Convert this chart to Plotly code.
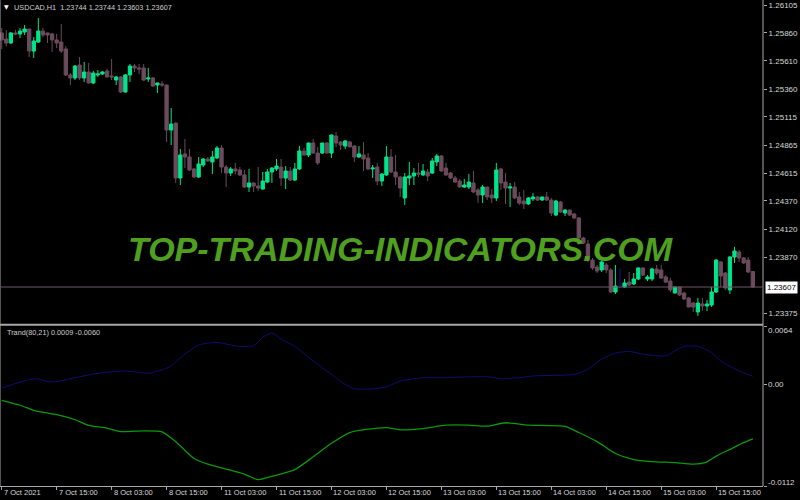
import plotly.graph_objects as go

# ---------------- data (USDCAD H1) ----------------
bar_open = [1.25858, 1.25804, 1.25769, 1.25858, 1.25849, 1.25866, 1.25893, 1.25698, 1.25778, 1.25875,
            1.25858, 1.25849, 1.25796, 1.25778, 1.25716, 1.25486, 1.25459, 1.25574, 1.25459, 1.25512,
            1.25415, 1.25486, 1.25494, 1.25521, 1.25477, 1.25441, 1.25468, 1.25335, 1.25486, 1.25565,
            1.25548, 1.25548, 1.25450, 1.25459, 1.25397, 1.25406, 1.25397, 1.24998, 1.25060, 1.24573,
            1.24786, 1.24759, 1.24653, 1.24582, 1.24688, 1.24741, 1.24715, 1.24750, 1.24839, 1.24670,
            1.24617, 1.24653, 1.24644, 1.24600, 1.24493, 1.24529, 1.24502, 1.24475, 1.24537, 1.24626,
            1.24653, 1.24670, 1.24573, 1.24635, 1.24555, 1.24653, 1.24812, 1.24777, 1.24883, 1.24794,
            1.24794, 1.24883, 1.24794, 1.24945, 1.24892, 1.24856, 1.24892, 1.24856, 1.24759, 1.24777,
            1.24750, 1.24653, 1.24670, 1.24546, 1.24600, 1.24759, 1.24626, 1.24582, 1.24396, 1.24573,
            1.24591, 1.24617, 1.24600, 1.24626, 1.24617, 1.24715, 1.24768, 1.24661, 1.24617, 1.24573,
            1.24546, 1.24493, 1.24493, 1.24529, 1.24467, 1.24422, 1.24493, 1.24422, 1.24396, 1.24653,
            1.24537, 1.24484, 1.24493, 1.24405, 1.24369, 1.24343, 1.24387, 1.24405, 1.24378, 1.24405,
            1.24378, 1.24245, 1.24360, 1.24263, 1.24289, 1.24254, 1.24219, 1.24041, 1.23988, 1.23846,
            1.23784, 1.23758, 1.23802, 1.23758, 1.23563, 1.23625, 1.23607, 1.23651, 1.23634, 1.23678,
            1.23776, 1.23678, 1.23678, 1.23767, 1.23758, 1.23696, 1.23660, 1.23554, 1.23607, 1.23554,
            1.23510, 1.23465, 1.23386, 1.23457, 1.23439, 1.23448, 1.23563, 1.23829, 1.23731, 1.23581,
            1.23873, 1.23917, 1.23864, 1.23846, 1.23744]
bar_high = [1.25902, 1.25884, 1.25866, 1.25884, 1.25902, 1.25928, 1.25895, 1.25822, 1.25990, 1.25902,
            1.25860, 1.25858, 1.25849, 1.25937, 1.25742, 1.25503, 1.25574, 1.25645, 1.25601, 1.25592,
            1.25521, 1.25530, 1.25521, 1.25539, 1.25627, 1.25477, 1.25477, 1.25494, 1.25583, 1.25583,
            1.25583, 1.25583, 1.25548, 1.25468, 1.25415, 1.25432, 1.25400, 1.25193, 1.25062, 1.24830,
            1.24918, 1.24830, 1.24661, 1.24759, 1.24750, 1.24759, 1.24812, 1.24856, 1.24865, 1.24688,
            1.24670, 1.24706, 1.24670, 1.24644, 1.24653, 1.24532, 1.24670, 1.24626, 1.24653, 1.24670,
            1.24741, 1.24741, 1.24679, 1.24670, 1.24706, 1.24856, 1.24839, 1.24885, 1.24918, 1.24848,
            1.24883, 1.24892, 1.24957, 1.24980, 1.24901, 1.24910, 1.24901, 1.24865, 1.24856, 1.24892,
            1.24794, 1.24688, 1.24706, 1.24617, 1.24856, 1.24830, 1.24777, 1.24591, 1.24617, 1.24715,
            1.24661, 1.24706, 1.24697, 1.24653, 1.24750, 1.24786, 1.24777, 1.24706, 1.24626, 1.24591,
            1.24564, 1.24564, 1.24608, 1.24635, 1.24484, 1.24511, 1.24495, 1.24475, 1.24706, 1.24661,
            1.24617, 1.24529, 1.24537, 1.24449, 1.24467, 1.24405, 1.24440, 1.24413, 1.24405, 1.24449,
            1.24396, 1.24378, 1.24369, 1.24298, 1.24292, 1.24263, 1.24227, 1.24050, 1.24024, 1.23864,
            1.23802, 1.23846, 1.23820, 1.23776, 1.23802, 1.23776, 1.23678, 1.23740, 1.23731, 1.23780,
            1.23780, 1.23713, 1.23776, 1.23802, 1.23802, 1.23713, 1.23687, 1.23610, 1.23610, 1.23563,
            1.23519, 1.23474, 1.23510, 1.23510, 1.23492, 1.23607, 1.23855, 1.23837, 1.23740, 1.23882,
            1.23962, 1.23935, 1.23873, 1.23873, 1.23744]
bar_low = [1.25716, 1.25742, 1.25760, 1.25840, 1.25813, 1.25840, 1.25645, 1.25636, 1.25769, 1.25822,
           1.25769, 1.25689, 1.25725, 1.25680, 1.25477, 1.25397, 1.25441, 1.25441, 1.25424, 1.25412,
           1.25406, 1.25468, 1.25486, 1.25465, 1.25441, 1.25397, 1.25326, 1.25330, 1.25424, 1.25512,
           1.25494, 1.25432, 1.25424, 1.25379, 1.25326, 1.25379, 1.24892, 1.24865, 1.24529, 1.24511,
           1.24661, 1.24635, 1.24573, 1.24573, 1.24670, 1.24715, 1.24608, 1.24741, 1.24617, 1.24493,
           1.24591, 1.24608, 1.24591, 1.24484, 1.24449, 1.24449, 1.24458, 1.24472, 1.24529, 1.24529,
           1.24635, 1.24502, 1.24475, 1.24546, 1.24546, 1.24644, 1.24768, 1.24759, 1.24786, 1.24688,
           1.24786, 1.24790, 1.24750, 1.24848, 1.24821, 1.24830, 1.24845, 1.24715, 1.24750, 1.24635,
           1.24644, 1.24573, 1.24511, 1.24502, 1.24591, 1.24617, 1.24511, 1.24405, 1.24334, 1.24511,
           1.24511, 1.24582, 1.24591, 1.24546, 1.24608, 1.24679, 1.24626, 1.24591, 1.24564, 1.24529,
           1.24490, 1.24484, 1.24475, 1.24440, 1.24351, 1.24351, 1.24378, 1.24351, 1.24369, 1.24467,
           1.24343, 1.24316, 1.24387, 1.24334, 1.24298, 1.24334, 1.24369, 1.24369, 1.24369, 1.24369,
           1.24236, 1.24236, 1.24263, 1.24236, 1.24236, 1.24210, 1.24024, 1.23988, 1.23829, 1.23758,
           1.23731, 1.23740, 1.23731, 1.23554, 1.23545, 1.23598, 1.23598, 1.23616, 1.23625, 1.23669,
           1.23705, 1.23660, 1.23660, 1.23713, 1.23678, 1.23643, 1.23563, 1.23550, 1.23528, 1.23492,
           1.23427, 1.23386, 1.23350, 1.23395, 1.23395, 1.23430, 1.23554, 1.23607, 1.23581, 1.23545,
           1.23820, 1.23829, 1.23811, 1.23731, 1.23603]
bar_close = [1.25796, 1.25769, 1.25858, 1.25849, 1.25875, 1.25893, 1.25698, 1.25787, 1.25875, 1.25840,
             1.25840, 1.25796, 1.25769, 1.25698, 1.25486, 1.25459, 1.25565, 1.25459, 1.25512, 1.25415,
             1.25503, 1.25494, 1.25512, 1.25468, 1.25468, 1.25468, 1.25335, 1.25486, 1.25565, 1.25548,
             1.25539, 1.25441, 1.25459, 1.25388, 1.25415, 1.25397, 1.24998, 1.25051, 1.24573, 1.24777,
             1.24759, 1.24644, 1.24582, 1.24697, 1.24741, 1.24724, 1.24759, 1.24839, 1.24670, 1.24617,
             1.24653, 1.24635, 1.24600, 1.24493, 1.24529, 1.24502, 1.24484, 1.24546, 1.24626, 1.24661,
             1.24679, 1.24573, 1.24635, 1.24555, 1.24653, 1.24812, 1.24777, 1.24883, 1.24794, 1.24706,
             1.24883, 1.24794, 1.24954, 1.24883, 1.24865, 1.24901, 1.24848, 1.24759, 1.24786, 1.24741,
             1.24653, 1.24661, 1.24546, 1.24608, 1.24759, 1.24626, 1.24582, 1.24484, 1.24582, 1.24591,
             1.24617, 1.24608, 1.24635, 1.24591, 1.24724, 1.24768, 1.24635, 1.24600, 1.24573, 1.24537,
             1.24493, 1.24511, 1.24537, 1.24449, 1.24422, 1.24493, 1.24405, 1.24396, 1.24644, 1.24529,
             1.24484, 1.24493, 1.24396, 1.24351, 1.24343, 1.24396, 1.24405, 1.24378, 1.24405, 1.24378,
             1.24263, 1.24369, 1.24272, 1.24289, 1.24245, 1.24219, 1.24041, 1.23997, 1.23846, 1.23776,
             1.23749, 1.23829, 1.23758, 1.23563, 1.23616, 1.23625, 1.23643, 1.23625, 1.23678, 1.23776,
             1.23713, 1.23696, 1.23767, 1.23731, 1.23687, 1.23651, 1.23581, 1.23607, 1.23536, 1.23501,
             1.23430, 1.23430, 1.23465, 1.23439, 1.23457, 1.23563, 1.23846, 1.23705, 1.23598, 1.23873,
             1.23926, 1.23864, 1.23820, 1.23740, 1.23607]
bar_index = list(range(len(bar_open)))

time_tick_idx = [0, 12, 24, 36, 48, 60, 72, 84, 96, 108, 120, 132, 144, 156]
time_tick_text = ["7 Oct 2021", "7 Oct 15:00", "8 Oct 03:00", "8 Oct 15:00", "11 Oct 03:00",
                  "11 Oct 15:00", "12 Oct 03:00", "12 Oct 15:00", "13 Oct 03:00", "13 Oct 15:00",
                  "14 Oct 03:00", "14 Oct 15:00", "15 Oct 03:00", "15 Oct 15:00"]

price_ticks = [1.26105, 1.25860, 1.25610, 1.25360, 1.25115, 1.24865, 1.24615,
               1.24370, 1.24120, 1.23870, 1.23375]
price_tick_text = ["%.5f" % v for v in price_ticks]
last_price = 1.23607
title_text = "USDCAD,H1  1.23744 1.23744 1.23603 1.23607"

trand_blue_idx = [0, 7, 11, 16, 21, 27, 32, 35, 37, 40, 43, 47, 50, 52, 55, 57, 59, 61, 64, 68,
                  72, 75, 77, 81, 84, 87, 92, 96, 106, 109, 113, 116, 125, 128, 131, 134, 137, 140,
                  145, 147, 149, 152, 155, 157, 161, 164]
trand_blue = [-0.0004, 0.00064, 0.00027, 0.00075, 0.00124, 0.00149, 0.00124, 0.0016, 0.00205, 0.00335,
              0.00436, 0.00465, 0.00436, 0.0042, 0.00428, 0.0052, 0.00569, 0.00502, 0.0042, 0.00261,
              0.00112, 0.00001, -0.00048, -0.00048, -0.00026, 0.00038, 0.00075, 0.00075, 0.00086, 0.00064,
              0.00075, 0.00094, 0.00112, 0.00168, 0.0028, 0.00346, 0.00365, 0.00335, 0.00316, 0.00372,
              0.0042, 0.0042, 0.00353, 0.00261, 0.00149, 0.0009]
trand_green_idx = [0, 4, 7, 12, 16, 19, 23, 26, 31, 35, 38, 42, 45, 50, 53, 56, 59, 64, 68, 72,
                   76, 80, 84, 87, 92, 97, 102, 106, 110, 115, 123, 126, 130, 134, 138, 142, 147, 151,
                   154, 156, 159, 162, 164]
trand_green = [-0.00174, -0.00229, -0.00285, -0.00333, -0.00389, -0.00452, -0.00482, -0.00519, -0.00511, -0.00522,
               -0.00631, -0.00816, -0.00879, -0.00946, -0.0099, -0.0105, -0.01013, -0.00939, -0.00798, -0.00649,
               -0.0053, -0.00493, -0.00475, -0.005, -0.00486, -0.00449, -0.00449, -0.0046, -0.00422, -0.00449,
               -0.00463, -0.0053, -0.00631, -0.00761, -0.00828, -0.0085, -0.00861, -0.00879, -0.00853, -0.0079,
               -0.00716, -0.00642, -0.0060]
trand_label = "Trand(80,21) 0.0009 -0.0060"
sub_ticks = [0.0064, 0.0, -0.0112]
sub_tick_text = ["0.0064", "0.00", "-0.0112"]

# ---------------- styling / layout ----------------
BULL = "#00e48c"
BEAR = "#6c4b5c"
DOJI = "#12128c"
FRAME = "#a8a8a8"
TXT = "#d8d8d8"
FONT = "Liberation Sans"

W, H = 800, 500
ML, MR, MT, MB = 0, 37, 0, 14
PH = H - MT - MB          # plot-area height in px
PW = W - ML - MR
MAIN_BOTTOM_PX = 323.5
SUB_TOP_PX = 326.5
PX_PER_PRICE = 1 / 0.0000886
MAIN_TOP_PRICE = 1.26150


def pyf(px):
    return 1 - px / PH


def pxf(px):
    return px / PW


normal = [i for i in bar_index if bar_open[i] != bar_close[i]]
doji = [i for i in bar_index if bar_open[i] == bar_close[i]]

fig = go.Figure()
fig.add_trace(go.Candlestick(
    x=normal,
    open=[bar_open[i] for i in normal], high=[bar_high[i] for i in normal],
    low=[bar_low[i] for i in normal], close=[bar_close[i] for i in normal],
    increasing=dict(line=dict(color=BULL, width=1), fillcolor=BULL),
    decreasing=dict(line=dict(color=BEAR, width=1), fillcolor=BEAR),
    whiskerwidth=0, xaxis="x", yaxis="y", showlegend=False, hoverinfo="skip"))

dx, dy = [], []
for i in doji:
    dx += [i, i, None, i - 0.35, i + 0.35, None]
    dy += [bar_low[i], bar_high[i], None, bar_open[i], bar_open[i], None]
if dx:
    fig.add_trace(go.Scatter(x=dx, y=dy, mode="lines", line=dict(color=DOJI, width=1),
                             xaxis="x", yaxis="y", showlegend=False, hoverinfo="skip"))

fig.add_trace(go.Scatter(x=trand_blue_idx, y=trand_blue, mode="lines",
                         line=dict(color="#0e0e72", width=1, shape="spline", smoothing=0.6),
                         xaxis="x", yaxis="y2", showlegend=False, hoverinfo="skip"))
fig.add_trace(go.Scatter(x=trand_green_idx, y=trand_green, mode="lines",
                         line=dict(color="#0a9a0a", width=1.3, shape="spline", smoothing=0.6),
                         xaxis="x", yaxis="y2", showlegend=False, hoverinfo="skip"))

bar_px = 4.58
x0_px = 1.7
x_range = [-x0_px / bar_px, (PW - x0_px) / bar_px]

main_range = [MAIN_TOP_PRICE - MAIN_BOTTOM_PX / PX_PER_PRICE, MAIN_TOP_PRICE]

annotations = []
annotations.append(dict(xref="paper", yref="paper", x=pxf(12), y=pyf(7.5), xanchor="left", yanchor="middle",
                        text=title_text, showarrow=False, font=dict(family=FONT, size=7.3, color="#cfcfcf")))
annotations.append(dict(xref="paper", yref="paper", x=pxf(6.5), y=pyf(6.5), xanchor="center", yanchor="middle",
                        text="▼", showarrow=False, font=dict(family="DejaVu Sans", size=6, color="#ffffff")))
annotations.append(dict(xref="paper", yref="paper", x=pxf(400), y=pyf(249), xanchor="center", yanchor="middle",
                        text="TOP-TRADING-INDICATORS.COM", showarrow=False,
                        font=dict(family=FONT, size=34, color="#4fa01f", weight="bold", style="italic")))
annotations.append(dict(xref="paper", yref="paper", x=pxf(5), y=pyf(332), xanchor="left", yanchor="middle",
                        text=trand_label, showarrow=False, font=dict(family=FONT, size=7.3, color="#cfcfcf")))
annotations.append(dict(xref="paper", yref="y", x=1, y=last_price, xanchor="left", yanchor="middle",
                        xshift=2, text="%.5f" % last_price, showarrow=False, bgcolor="#ffffff",
                        borderpad=1, font=dict(family=FONT, size=8, color="#000000")))
for v, t, sh in zip(sub_ticks, sub_tick_text, [-4, 0, 4]):
    annotations.append(dict(xref="paper", yref="y2", x=1, y=v, xanchor="left", yanchor="middle",
                            xshift=3, yshift=sh, text=t, showarrow=False,
                            font=dict(family=FONT, size=8, color=TXT)))
for idx, t in zip(time_tick_idx, time_tick_text):
    annotations.append(dict(xref="x", yref="paper", x=idx, y=pyf(492.5), xanchor="left", yanchor="middle",
                            xshift=0, text=t, showarrow=False, font=dict(family=FONT, size=7.5, color=TXT)))

shapes = [
    dict(type="line", xref="paper", yref="paper", x0=0, x1=0, y0=pyf(0), y1=pyf(PH),
         line=dict(color=FRAME, width=1)),
    dict(type="line", xref="paper", yref="paper", x0=1, x1=1, y0=pyf(0), y1=pyf(PH),
         line=dict(color=FRAME, width=1)),
    dict(type="line", xref="paper", yref="paper", x0=0, x1=1, y0=pyf(324.8), y1=pyf(324.8),
         line=dict(color=FRAME, width=2)),
    dict(type="line", xref="paper", yref="y", x0=0, x1=1, y0=last_price, y1=last_price,
         line=dict(color="#6e5866", width=1)),
]

fig.update_layout(
    width=W, height=H,
    margin=dict(l=ML, r=MR, t=MT, b=MB, pad=0),
    paper_bgcolor="#000000", plot_bgcolor="#000000",
    showlegend=False, hovermode=False,
    boxgap=0.2, boxgroupgap=0.1,
    xaxis=dict(domain=[0, 1], range=x_range, anchor="y2", showgrid=False, zeroline=False,
               tickvals=time_tick_idx, showticklabels=False, ticks="outside", ticklen=3,
               tickcolor=FRAME, showline=True, linecolor=FRAME, linewidth=1,
               rangeslider=dict(visible=False), fixedrange=True),
    yaxis=dict(domain=[pyf(MAIN_BOTTOM_PX), 1], range=main_range, anchor="x", side="right",
               showgrid=False, zeroline=False, tickvals=price_ticks, ticktext=price_tick_text,
               ticks="outside", ticklen=3, tickcolor=FRAME,
               tickfont=dict(family=FONT, size=8, color=TXT), showline=False),
    yaxis2=dict(domain=[0, pyf(SUB_TOP_PX)], range=[-0.0112, 0.0064], anchor="x", side="right",
                showgrid=False, zeroline=False, tickvals=sub_ticks, showticklabels=False,
                ticks="outside", ticklen=3, tickcolor=FRAME, showline=False),
    annotations=annotations,
    shapes=shapes,
)

fig.write_html("out.html", config={"displayModeBar": False},
               post_script="document.body.style.margin='0px';document.body.style.background='#000';")
